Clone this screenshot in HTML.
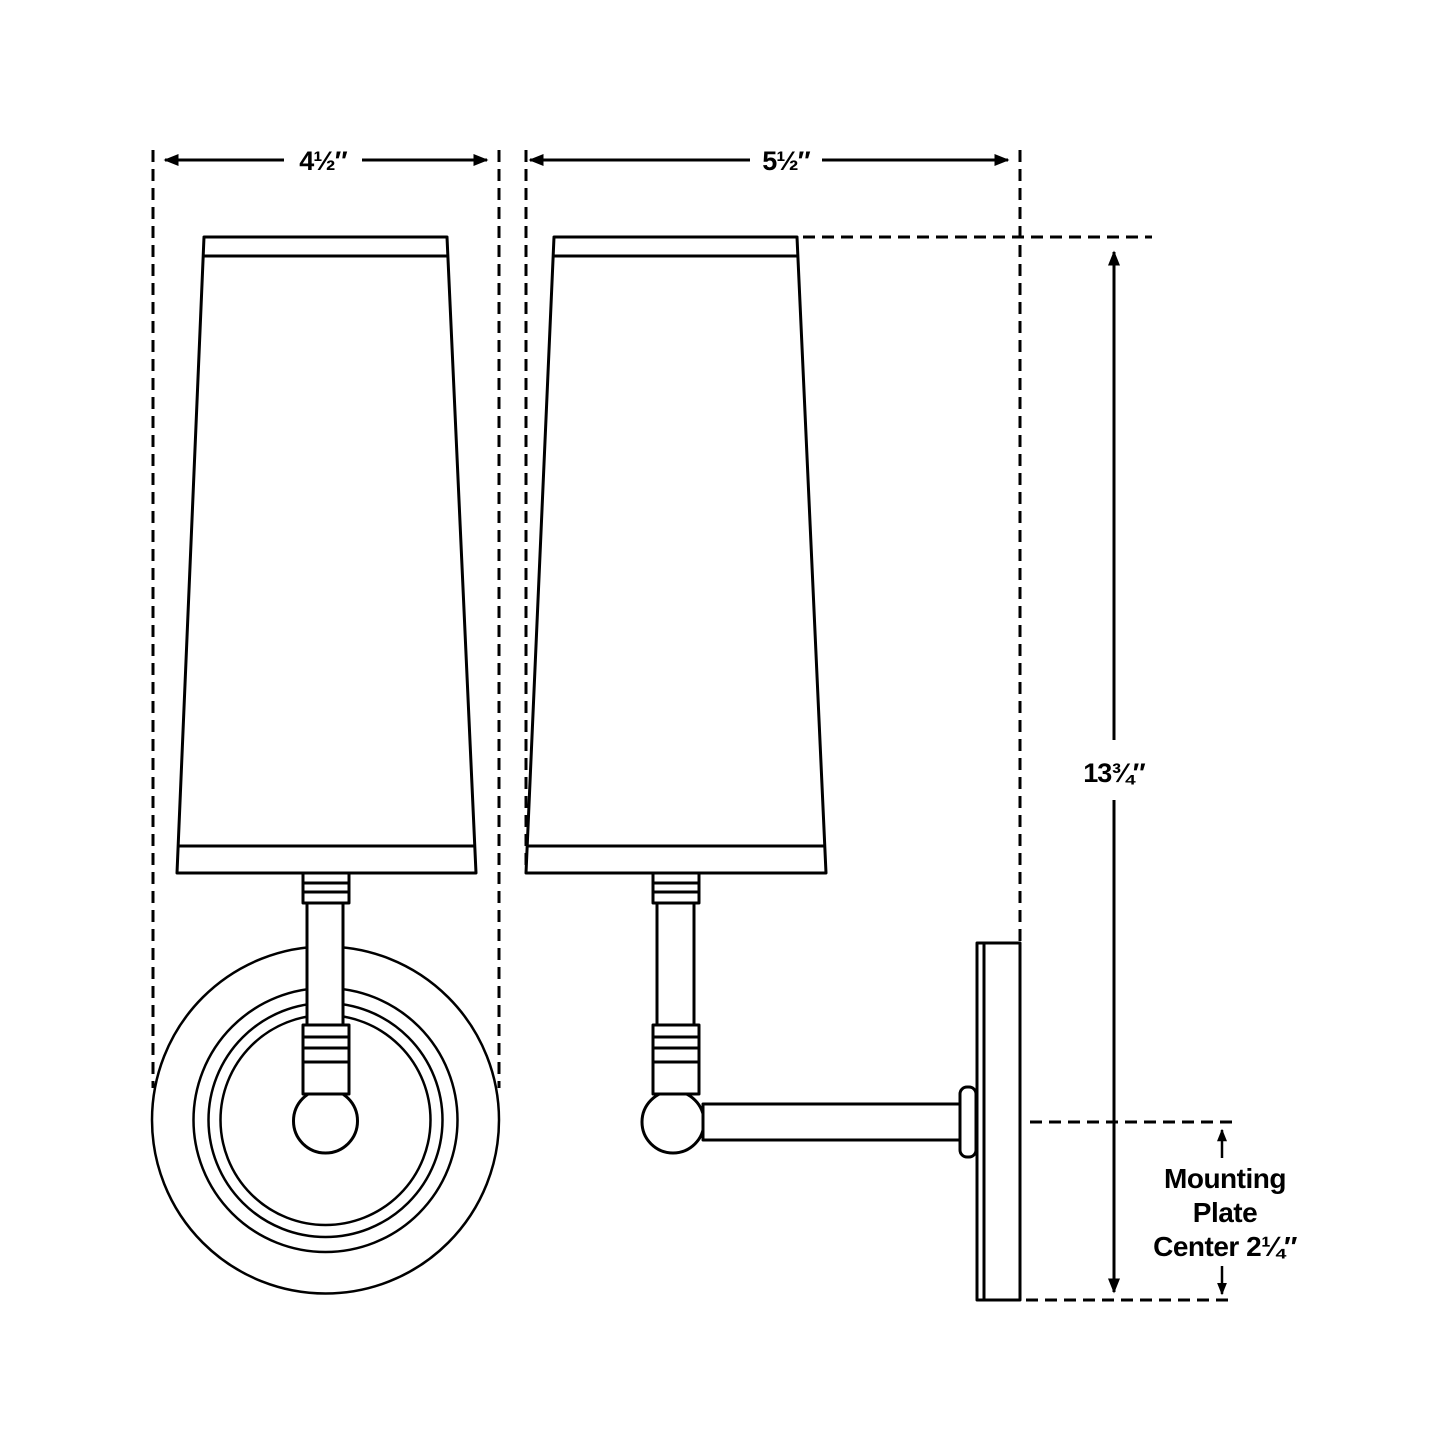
<!DOCTYPE html>
<html><head><style>html,body{margin:0;padding:0;background:#fff}svg{display:block}</style></head><body>
<svg width="1445" height="1445" viewBox="0 0 1445 1445" xmlns="http://www.w3.org/2000/svg">
<defs>
<marker id="ah" viewBox="0 0 10 10" refX="9" refY="5" markerWidth="5" markerHeight="5" orient="auto-start-reverse"><path d="M0,1 L10,5 L0,9 z" fill="#000"/></marker>
</defs>
<g fill="none" stroke="#000" stroke-width="3" stroke-dasharray="12 7">
<line x1="153" y1="150" x2="153" y2="1088"/>
<line x1="499" y1="150" x2="499" y2="1088"/>
<line x1="526" y1="150" x2="526" y2="870"/>
<line x1="1020" y1="150" x2="1020" y2="943"/>
<line x1="803" y1="237" x2="1152" y2="237"/>
<line x1="1030" y1="1122" x2="1232" y2="1122"/>
<line x1="1026" y1="1300" x2="1232" y2="1300"/>
</g>
<g stroke="#000" stroke-width="3" fill="none">
<line x1="165" y1="160" x2="284" y2="160" marker-start="url(#ah)"/>
<line x1="362" y1="160" x2="487" y2="160" marker-end="url(#ah)"/>
<line x1="530" y1="160" x2="750" y2="160" marker-start="url(#ah)"/>
<line x1="822" y1="160" x2="1008" y2="160" marker-end="url(#ah)"/>
<line x1="1114" y1="252" x2="1114" y2="740"/>
<line x1="1114" y1="252" x2="1114" y2="262" marker-start="url(#ah)"/>
<line x1="1114" y1="800" x2="1114" y2="1292" marker-end="url(#ah)"/>
<line x1="1222" y1="1130" x2="1222" y2="1158" marker-start="url(#ah)" stroke-width="2.5"/>
<line x1="1222" y1="1266" x2="1222" y2="1294" marker-end="url(#ah)" stroke-width="2.5"/>
</g>
<g font-family="Liberation Sans, sans-serif" font-weight="bold" text-anchor="middle" fill="#000">
<text x="323" y="170" font-size="27" letter-spacing="-1">4½″</text>
<text x="786" y="170" font-size="27" letter-spacing="-1">5½″</text>
<text x="1114" y="782" font-size="27" letter-spacing="-1">13¾″</text>
<text x="1225" y="1188" font-size="28" letter-spacing="-0.5">Mounting</text>
<text x="1225" y="1222" font-size="28" letter-spacing="-0.5">Plate</text>
<text x="1225" y="1256" font-size="28" letter-spacing="-0.5">Center 2¼″</text>
</g>
<g stroke="#000" stroke-width="3" fill="#fff" stroke-linejoin="round">
<circle cx="325.5" cy="1120" r="173.5" stroke-width="2.5"/>
<circle cx="325.5" cy="1120" r="132" stroke-width="2.5"/>
<circle cx="325.5" cy="1120" r="117" stroke-width="2.5"/>
<circle cx="325.5" cy="1120" r="105" stroke-width="2.5"/>
<path d="M204,237 L447,237 L476,873 L177,873 Z"/>
<line x1="203" y1="256" x2="448" y2="256"/>
<line x1="178" y1="846" x2="475" y2="846"/>
<rect x="303" y="873" width="46" height="30"/>
<line x1="303" y1="883" x2="349" y2="883"/><line x1="303" y1="892" x2="349" y2="892"/>
<rect x="307" y="903" width="36" height="122"/>
<circle cx="325.5" cy="1121" r="32"/>
<rect x="303" y="1025" width="46" height="69"/>
<line x1="303" y1="1037" x2="349" y2="1037"/><line x1="303" y1="1048" x2="349" y2="1048"/><line x1="303" y1="1062" x2="349" y2="1062"/>
<path d="M554,237 L797,237 L826,873 L526,873 Z"/>
<line x1="553" y1="256" x2="798" y2="256"/>
<line x1="527" y1="846" x2="825" y2="846"/>
<rect x="653" y="873" width="46" height="30"/>
<line x1="653" y1="883" x2="699" y2="883"/><line x1="653" y1="892" x2="699" y2="892"/>
<rect x="657" y="903" width="37" height="122"/>
<circle cx="673" cy="1122" r="31"/>
<rect x="703" y="1104" width="258" height="36"/>
<rect x="653" y="1025" width="46" height="69"/>
<line x1="653" y1="1037" x2="699" y2="1037"/><line x1="653" y1="1048" x2="699" y2="1048"/><line x1="653" y1="1062" x2="699" y2="1062"/>
<rect x="960" y="1087" width="16" height="70" rx="7"/>
<rect x="977" y="943" width="43" height="357"/>
<line x1="984" y1="943" x2="984" y2="1300"/>
</g>
</svg>
</body></html>
